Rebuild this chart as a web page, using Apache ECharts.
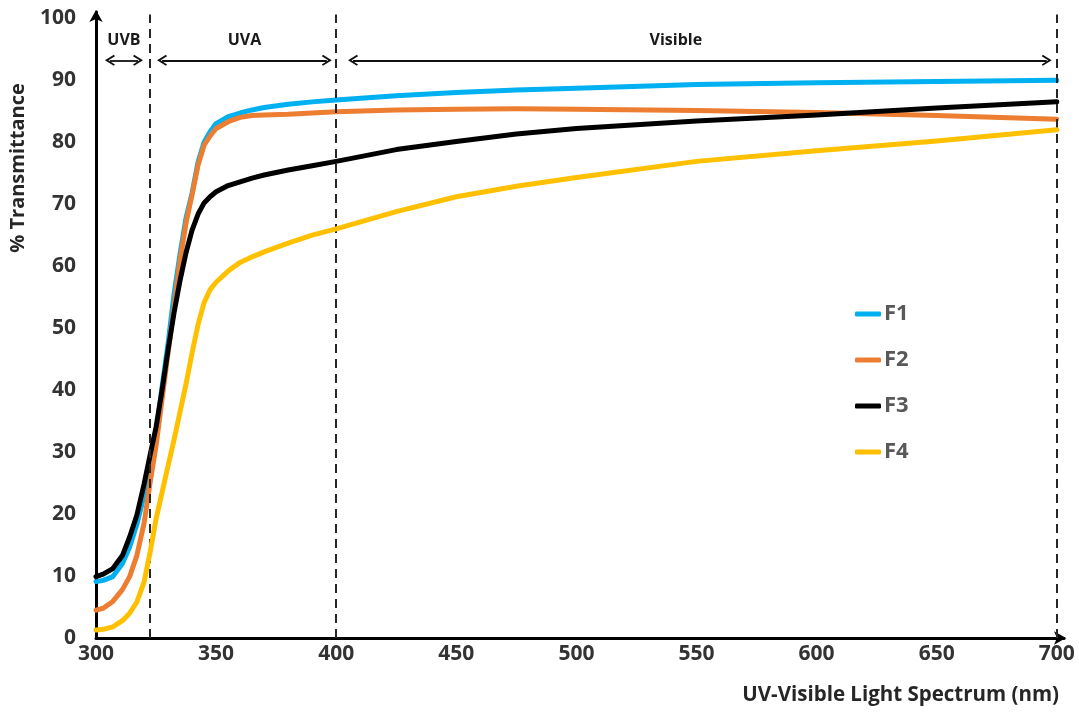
<!DOCTYPE html>
<html>
<head>
<meta charset="utf-8">
<title>UV-Visible Transmittance</title>
<script src="https://cdn.jsdelivr.net/npm/echarts@6/dist/echarts.min.js"></script>
<style>
  html, body { margin: 0; padding: 0; background: #ffffff; }
  #chart { width: 1079px; height: 715px; }
</style>
</head>
<body>
<div id="chart"></div>
<script>
// Wavelength samples (nm)
const wavelengths = [300,303,307,311,314,317,320,322.5,325,327.5,330,332.5,335,337.5,340,342.5,345,347.5,350,355,360,365,370,380,390,400,425,450,475,500,550,600,650,700];

// % transmittance of each formulation at the wavelengths above
const f1 = [9.1,9.3,9.9,12.0,14.7,18.3,23.0,28.5,33.0,40.5,47.5,55.5,62.0,67.8,71.8,76.8,80.0,81.7,83.0,84.1,84.7,85.2,85.6,86.1,86.5,86.8,87.5,88.0,88.4,88.7,89.3,89.6,89.8,90.0];
const f2 = [4.5,4.8,5.9,7.8,9.9,13.3,18.5,25.0,31.0,38.5,46.0,53.5,61.0,67.0,71.5,76.3,79.5,81.0,82.2,83.3,84.0,84.3,84.4,84.5,84.7,84.9,85.2,85.3,85.4,85.3,85.1,84.8,84.3,83.7];
const f3 = [9.9,10.3,11.2,13.3,16.3,19.8,24.8,29.5,34.0,40.0,46.5,52.5,57.7,62.2,65.8,68.4,70.2,71.2,72.0,73.0,73.6,74.2,74.7,75.5,76.2,76.9,78.8,80.1,81.3,82.2,83.4,84.4,85.5,86.5];
const f4 = [1.3,1.4,1.8,2.8,4.0,5.8,9.0,13.8,19.2,23.5,27.8,32.0,36.5,41.0,46.0,50.6,54.1,56.2,57.4,59.2,60.6,61.5,62.3,63.7,65.0,66.0,68.8,71.2,72.9,74.3,76.9,78.6,80.2,82.0];

const seriesNames = ['F1', 'F2', 'F3', 'F4'];

// Band boundaries (nm) and the spans of the band arrows
const bandBoundaries = [322.5, 400, 700];
const bandNames = ['UVB', 'UVA', 'Visible'];
const bandArrowFrom = [305.8, 327.5, 407.0];
const bandArrowTo = [317.5, 396.1, 695.8];
const bandArrowLevel = 93.2;
// horizontal nudge of each band name from the arrow's centre (px)
const bandLabelShift = [0, 0, -24];

const colors = ['#00B0F0', '#ED7D31', '#000000', '#FFC000'];
const FONT = '"Open Sans", Lato, sans-serif';

// Open chevron arrowhead pointing up (rotated by ECharts along the line)
const chevron = 'path://M5,0 L10,8 L8.7,9 L5,3.2 L1.3,9 L0,8 Z';

const chart = echarts.init(document.getElementById('chart'), null, { renderer: 'canvas' });

const lineData = [f1, f2, f3, f4];

const boundaryLines = bandBoundaries.map(x => [
  { coord: [x, 0] },
  { coord: [x, 100.6] }
]);

const bandArrows = bandNames.map((name, i) => {
  const s = bandLabelShift[i];
  const pad = s < 0 ? [0, -2 * s, 0, 0] : [0, 0, 0, 2 * s];
  return [
    { coord: [bandArrowFrom[i], bandArrowLevel], name: name, label: { padding: pad } },
    { coord: [bandArrowTo[i], bandArrowLevel] }
  ];
});

const series = seriesNames.map((name, i) => ({
  name: name,
  type: 'line',
  data: wavelengths.map((w, j) => [w, lineData[i][j]]),
  showSymbol: false,
  smooth: false,
  lineStyle: { color: colors[i], width: 5, cap: 'round', join: 'round' },
  itemStyle: { color: colors[i] },
  z: 2 + i
}));

// Dashed band boundaries
series.push({
  name: 'bands',
  type: 'line',
  data: [],
  silent: true,
  z: 10,
  markLine: {
    silent: true,
    symbol: ['none', 'none'],
    animation: false,
    label: { show: false },
    lineStyle: { color: '#262626', width: 2, type: [9, 6] },
    data: boundaryLines
  }
});

// Double-headed band arrows with their names
series.push({
  name: 'bandArrows',
  type: 'line',
  data: [],
  silent: true,
  z: 10,
  markLine: {
    silent: true,
    symbol: [chevron, chevron],
    symbolSize: [11, 10],
    animation: false,
    lineStyle: { color: '#111111', width: 1.8, type: 'solid' },
    label: {
      show: true,
      position: 'insideMiddleTop',
      distance: 12,
      formatter: p => p.name,
      fontFamily: FONT,
      fontWeight: 'bold',
      fontSize: 16,
      color: '#1a1a1a'
    },
    data: bandArrows
  }
});

chart.setOption({
  animation: false,
  backgroundColor: '#ffffff',
  grid: { left: 96, right: 15, top: 12, bottom: 77, containLabel: false },
  legend: {
    data: seriesNames,
    orient: 'vertical',
    left: 850,
    top: 298,
    itemGap: 24,
    itemWidth: 26,
    itemHeight: 5,
    icon: 'roundRect',
    textStyle: { fontFamily: FONT, fontWeight: 'bold', fontSize: 22, color: '#595959', padding: [0, 0, 0, -2] }
  },
  xAxis: {
    type: 'value',
    min: 300,
    max: 703,
    interval: 50,
    axisLine: {
      show: true,
      lineStyle: { color: '#000000', width: 3 },
      symbol: ['none', 'arrow'],
      symbolSize: [10, 12],
      symbolOffset: [0, 2]
    },
    axisTick: { show: false },
    splitLine: { show: false },
    axisLabel: {
      showMaxLabel: false,
      margin: 6,
      fontFamily: FONT,
      fontWeight: 'bold',
      fontSize: 21,
      color: '#333333'
    }
  },
  yAxis: {
    type: 'value',
    min: 0,
    max: 101,
    interval: 10,
    axisLine: {
      show: true,
      lineStyle: { color: '#000000', width: 3 },
      symbol: ['none', 'arrow'],
      symbolSize: [10, 12],
      symbolOffset: [0, 2]
    },
    axisTick: { show: false },
    splitLine: { show: false },
    axisLabel: {
      showMaxLabel: false,
      margin: 20,
      fontFamily: FONT,
      fontWeight: 'bold',
      fontSize: 21,
      color: '#333333'
    }
  },
  graphic: [
    {
      type: 'text',
      x: 18,
      y: 168,
      rotation: Math.PI / 2,
      style: {
        text: '% Transmittance',
        fontFamily: FONT,
        fontWeight: 'bold',
        fontSize: 20,
        fill: '#262626',
        textAlign: 'center',
        textVerticalAlign: 'middle'
      }
    },
    {
      type: 'text',
      x: 1059,
      y: 695,
      style: {
        text: 'UV-Visible Light Spectrum (nm)',
        fontFamily: FONT,
        fontWeight: 'bold',
        fontSize: 20.5,
        fill: '#262626',
        textAlign: 'right',
        textVerticalAlign: 'middle'
      }
    }
  ],
  series: series
});
</script>
</body>
</html>
